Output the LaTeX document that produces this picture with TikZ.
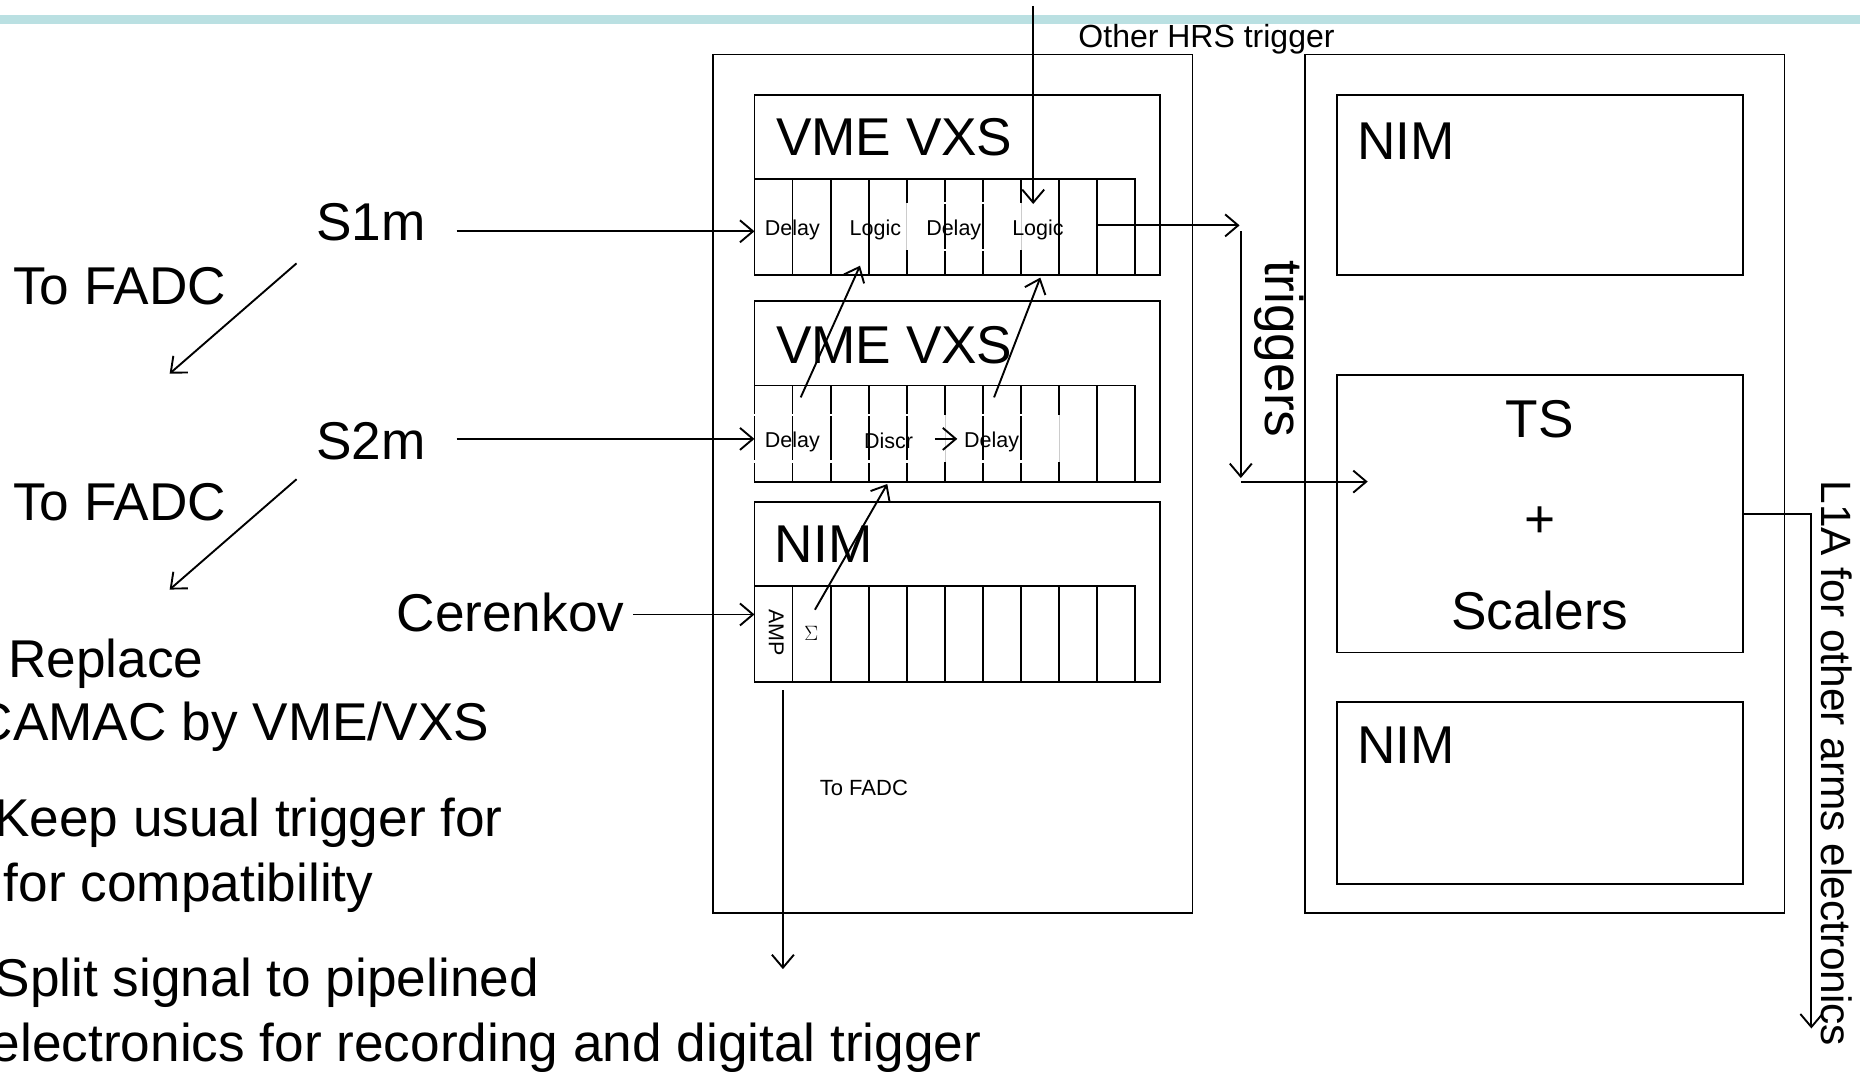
\documentclass[tikz,border=0pt]{standalone}
\usepackage{fontspec}
\setmainfont{Liberation Sans}
\usepackage{xcolor}
\usetikzlibrary{arrows.meta,positioning,calc}
\definecolor{bandteal}{HTML}{BAE0E2}
\tikzset{
  rackbox/.style={draw, line width=1.8pt, anchor=north west, inner sep=0pt, outer sep=0pt},
  framebox/.style={rackbox, minimum width=479.6pt, minimum height=858.8pt},
  cratebox/.style={rackbox, minimum width=405.7pt, minimum height=180.3pt},
  slotbox/.style={rackbox, minimum width=38.08pt, minimum height=96.1pt},
  sig/.style={-{Straight Barb[length=13pt,width=22pt,line width=1.9pt]}, line width=1.9pt},
  bigtxt/.style={font=\fontsize{53.2}{60}\selectfont, inner sep=0pt},
  sidetxt/.style={font=\fontsize{42.4}{48}\selectfont, inner sep=0pt},
  midtxt/.style={font=\fontsize{32}{38}\selectfont, inner sep=0pt},
  slottxt/.style={font=\fontsize{21.5}{26}\selectfont, inner sep=0pt},
}
\begin{document}
\begin{tikzpicture}[x=1.1862pt,y=-1.1862pt]
  \useasboundingbox (0,0) rectangle (1568,902.9);
  \fill[white] (0,0) rectangle (1568,902.9);
  % top band
  \fill[bandteal] (0,13) rectangle (1568,20);
  % left frame and crates
  \node[framebox] (frameL) at (601,46) {};
  \node[cratebox] (vmeA) at (636,80) {};
  \node[cratebox] (vmeB) at (636,254) {};
  \node[cratebox] (nimA) at (636,423) {};
  \foreach \row/\y in {slotA/151,slotB/325,slotC/494}
    \foreach \i in {0,...,9}
      \node[slotbox] (\row\i) at ({636+32.1*\i},\y) {};
  % breaks in the dividers
  \foreach \i in {5,6}
    \foreach \y in {171,211}
      \draw[white, line width=2pt] ({636+32.1*\i},\y-1) -- ++(0,2);
  \foreach \i in {0,1,2,3,4,6,7}
    \foreach \y in {350,389}
      \draw[white, line width=2pt] ({636+32.1*\i},\y-1) -- ++(0,2);
  \foreach \i/\y in {4/171,7/171,5/350,8/350} {
    \draw[white, line width=2pt] ({636+32.1*\i},\y) -- ++(0,39.5);
    \draw[black!20, line width=0.6pt] ({636+32.1*\i},\y) -- ++(0,39.5);
  }
  % right frame and crates
  \node[framebox] (frameR) at (1100,46) {};
  \node[cratebox] (nimB) at (1127,80) {};
  \node[rackbox, minimum width=405.7pt, minimum height=277.6pt] (tsbox) at (1127,316) {};
  \node[rackbox, minimum width=405.7pt, minimum height=181.5pt] (nimC) at (1127,592) {};
  % crate labels
  \node[bigtxt, anchor=west] (vmeAlab) at (654,116) {VME VXS};
  \node[bigtxt, anchor=west] (vmeBlab) at (654,291) {VME VXS};
  \node[bigtxt, anchor=west] (nimAlab) at (653,459) {NIM};
  \node[bigtxt, anchor=west] (nimBlab) at (1144,119) {NIM};
  \node[bigtxt, anchor=west] (nimClab) at (1144,628) {NIM};
  \node[bigtxt] (tslab) at (1298,353) {TS};
  \node[bigtxt] (pluslab) at (1298,440) {+};
  \node[bigtxt] (scallab) at (1298,515) {Scalers};
  % slot labels
  \node[slottxt] (delayA) at (668,193.5) {Delay};
  \node[slottxt] (logicA) at (738,193.5) {Logic};
  \node[slottxt] (delayB) at (804,193.5) {Delay};
  \node[slottxt] (logicB) at (875,193.5) {Logic};
  \node[slottxt] (delayC) at (668,372.5) {Delay};
  \node[slottxt] (discr) at (749,372) {Discr};
  \node[slottxt] (delayD) at (836,372.5) {Delay};
  \node[slottxt, rotate=-90] (amp) at (654.5,533.5) {AMP};
  \node[font=\fontsize{20}{24}\selectfont, inner sep=0pt] (sumlab) at (684,534) {$\Sigma$};
  % signal names
  \node[bigtxt] (s1m) at (312.5,187) {S1m};
  \node[bigtxt] (s2m) at (312.5,372) {S2m};
  \node[bigtxt, anchor=east] (cerenkov) at (526.5,516) {Cerenkov};
  \node[bigtxt, anchor=west] (fadcA) at (11,241) {To FADC};
  \node[bigtxt, anchor=west] (fadcB) at (11,423) {To FADC};
  \node[font=\fontsize{22}{26}\selectfont, inner sep=0pt, anchor=west] (fadcC) at (691,664) {To FADC};
  \node[midtxt, anchor=west] (otherhrs) at (909,33) {Other HRS trigger};
  \node[bigtxt, rotate=-90] (trigs) at (1078,294) {triggers};
  \node[sidetxt, rotate=-90, anchor=west] (l1a) at (1548,405) {L1A for other arms electronics};
  % remarks at the left
  \node[bigtxt, anchor=base east] (noteA) at (171.5,571) {Replace};
  \node[bigtxt, anchor=base east] (noteB) at (412.5,624) {CAMAC by VME/VXS};
  \node[bigtxt, anchor=base east] (noteC) at (424,705) {Keep usual trigger for};
  \node[bigtxt, anchor=base east] (noteD) at (315,760) {for compatibility};
  \node[bigtxt, anchor=base east] (noteE) at (454.5,840) {Split signal to pipelined};
  \node[bigtxt, anchor=base east] (noteF) at (827.5,894.5) {electronics for recording and digital trigger};
  % free ends
  \coordinate (s1mout) at (385,195);
  \coordinate (s2mout) at (385,370);
  \coordinate (cerout) at (534,518);
  \coordinate (fadcAin) at (250,222);
  \coordinate (fadcAend) at (143,315);
  \coordinate (fadcBin) at (250,404);
  \coordinate (fadcBend) at (143,497);
  \coordinate (hrsin) at (871,5);
  \coordinate (hrsend) at (871,172);
  \coordinate (delayout) at (675,335);
  \coordinate (logicin) at (725,224);
  \coordinate (delayDout) at (838,335);
  \coordinate (logicBin) at (877,234);
  \coordinate (sumout) at (687,514);
  \coordinate (discrin) at (748,408);
  \coordinate (discrout) at (788,370);
  \coordinate (delayDin) at (807,370);
  \coordinate (trigout) at (925,190);
  \coordinate (trigend) at (1045,190);
  \coordinate (trigtop) at (1046,195);
  \coordinate (trigbot) at (1046,403);
  \coordinate (tsstart) at (1046,406);
  \coordinate (tsin) at (1153,406);
  \coordinate (l1aout) at (1469,433);
  \coordinate (l1abend) at (1527,433);
  \coordinate (l1aend) at (1527,867);
  \coordinate (fadcCin) at (660,582);
  \coordinate (fadcCend) at (660,817);
  % connectors
  \draw[sig] (s1mout) -- (slotA0.west |- s1mout);
  \draw[sig] (s2mout) -- (slotB0.west |- s2mout);
  \draw[sig] (cerout) -- (slotC0.west |- cerout);
  \draw[sig] (fadcAin) -- (fadcAend);
  \draw[sig] (fadcBin) -- (fadcBend);
  \draw[sig] (hrsin) -- (hrsend);
  \draw[sig] (delayout) -- (logicin);
  \draw[sig] (delayDout) -- (logicBin);
  \draw[sig] (sumout) -- (discrin);
  \draw[sig] (discrout) -- (delayDin);
  \draw[sig] (trigout) -- (trigend);
  \draw[sig] (trigtop) -- (trigbot);
  \draw[sig] (tsstart) -- (tsin);
  \draw[sig] (l1aout) -- (l1abend) -- (l1aend);
  \draw[sig] (fadcCin) -- (fadcCend);
\end{tikzpicture}
\end{document}
